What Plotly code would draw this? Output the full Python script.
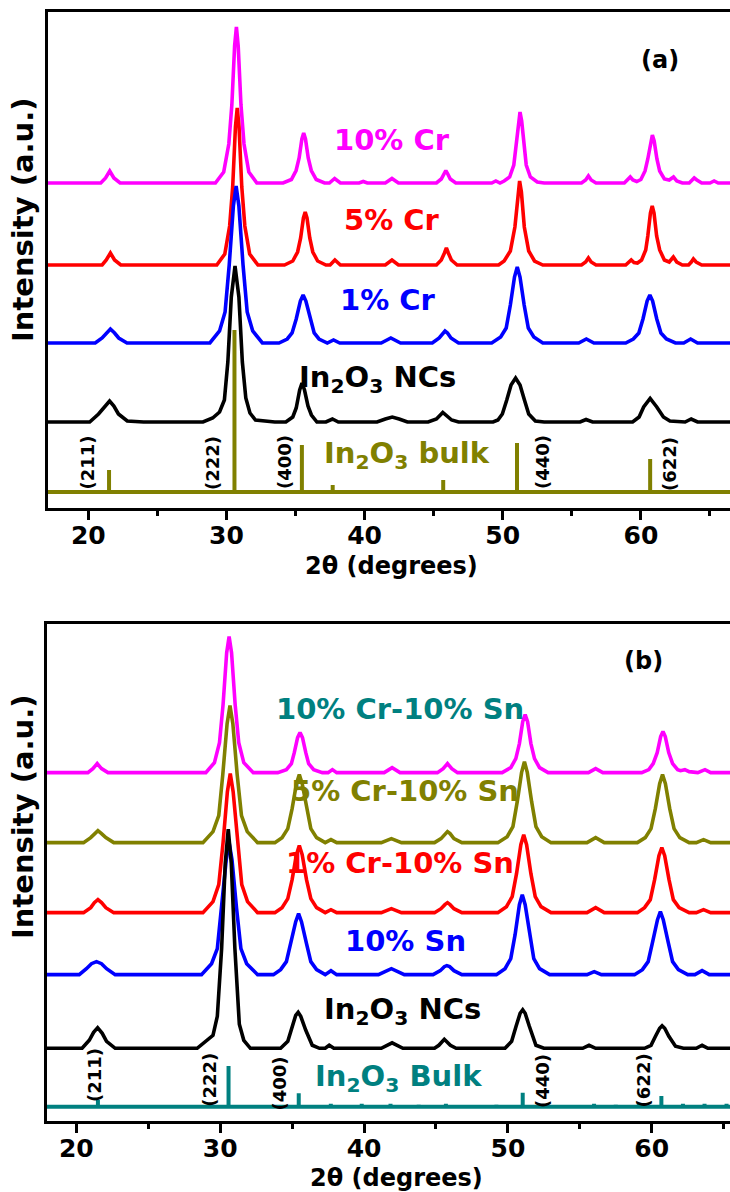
import plotly.graph_objects as go

# ---------------------------------------------------------------------------
# Panel (a): In2O3 NCs and Cr-doped In2O3 (2theta, intensity above own baseline)
# ---------------------------------------------------------------------------
CR10_A = [(17.0, 0), (20.9, 0), (21.25, 5), (21.55, 12), (21.85, 5), (22.3, 0),
          (29.2, 0), (29.8, 11), (30.17, 39), (30.39, 78), (30.59, 137), (30.72, 156), (30.85, 137),
          (31.05, 78), (31.27, 39), (31.62, 11), (32.2, 0),
          (34.1, 0), (34.7, 3.5), (35.04, 12.5), (35.26, 25), (35.46, 44), (35.59, 50), (35.72, 44),
          (35.92, 25), (36.14, 12.5), (36.5, 3.5), (37.1, 0),
          (37.45, 0), (37.83, 4.5), (38.25, 0), (39.6, 0), (39.9, 1.5), (40.2, 0),
          (41.5, 0), (41.98, 4.5), (42.45, 0),
          (45.2, 0), (45.55, 4), (45.75, 9), (45.88, 12.5), (46.02, 9), (46.2, 4), (46.6, 0),
          (49.2, 0), (49.5, 2), (49.8, 0), (50.1, 2), (50.5, 6), (50.8, 18), (50.95, 36), (51.13, 62),
          (51.25, 71), (51.37, 62), (51.55, 36), (51.7, 18), (52.0, 6), (52.5, 1), (53.0, 0),
          (55.7, 0), (56.0, 3), (56.2, 7), (56.4, 3), (56.75, 0),
          (58.8, 0), (59.05, 3), (59.23, 6), (59.42, 3), (59.7, 1.5), (60.0, 3.5), (60.3, 12), (60.5, 24),
          (60.7, 42), (60.83, 48), (60.96, 42), (61.16, 24), (61.36, 12), (61.7, 4), (62.05, 3),
          (62.36, 6), (62.6, 2), (63.0, 0), (63.5, 0), (63.7, 3), (63.86, 5), (64.05, 3), (64.4, 0),
          (65.0, 0), (65.3, 2), (65.6, 0), (66.6, 0)]

CR5_A = [(17.0, 0), (21.0, 0), (21.3, 5), (21.6, 12), (21.9, 5), (22.35, 0),
         (29.3, 0), (29.88, 11), (30.23, 39), (30.45, 78), (30.65, 138), (30.78, 157), (30.91, 138),
         (31.11, 78), (31.33, 39), (31.68, 11), (32.28, 0),
         (34.2, 0), (34.8, 4), (35.15, 13), (35.37, 27), (35.57, 47), (35.7, 53), (35.83, 47),
         (36.03, 27), (36.25, 13), (36.6, 4), (37.2, 0),
         (37.5, 0), (37.85, 5), (38.25, 0), (41.5, 0), (41.98, 5), (42.45, 0),
         (45.2, 0), (45.55, 5), (45.78, 12), (45.92, 17), (46.06, 12), (46.28, 5), (46.7, 0),
         (49.7, 0), (50.1, 4), (50.55, 14), (50.88, 38), (51.09, 73), (51.22, 84), (51.35, 73),
         (51.56, 38), (51.88, 14), (52.3, 4), (52.9, 0),
         (55.7, 0), (56.0, 3), (56.2, 7), (56.4, 3), (56.75, 0),
         (58.9, 0), (59.12, 2.5), (59.3, 5), (59.5, 2.5), (59.75, 2), (60.05, 5), (60.35, 15),
         (60.5, 29), (60.69, 52), (60.82, 59), (60.95, 52), (61.14, 29), (61.36, 15), (61.7, 5),
         (62.05, 3), (62.35, 8), (62.6, 3), (63.0, 0), (63.45, 0), (63.65, 3), (63.8, 6), (64.0, 3),
         (64.4, 0), (66.6, 0)]

CR1_A = [(17.0, 0), (20.5, 0), (21.0, 5), (21.3, 10), (21.6, 14), (21.9, 10), (22.2, 5), (22.8, 0),
         (28.8, 0), (29.5, 12), (29.9, 31), (30.2, 78), (30.5, 137), (30.7, 157), (30.9, 137),
         (31.2, 78), (31.5, 31), (31.9, 12), (32.6, 0),
         (33.8, 0), (34.4, 4), (34.75, 10), (35.05, 24), (35.35, 42), (35.55, 48), (35.75, 42),
         (36.05, 24), (36.35, 10), (36.7, 4), (37.3, 0),
         (37.75, 3), (38.2, 0), (41.2, 0), (41.9, 5), (42.6, 0),
         (44.9, 0), (45.4, 5), (45.65, 10), (45.82, 12), (46.0, 10), (46.25, 5), (46.8, 0),
         (49.2, 0), (49.85, 6), (50.25, 15), (50.55, 38), (50.85, 66), (51.05, 76), (51.25, 66),
         (51.55, 38), (51.85, 15), (52.25, 6), (52.9, 0),
         (55.5, 0), (56.05, 4), (56.6, 0),
         (58.9, 0), (59.45, 4), (59.85, 10), (60.15, 24), (60.45, 42), (60.65, 48), (60.85, 42),
         (61.15, 24), (61.45, 10), (61.85, 4), (62.5, 0),
         (63.1, 0), (63.6, 4), (64.1, 0), (66.6, 0)]

NCS_A = [(17.0, 0), (20.1, 0), (20.74, 8), (21.2, 16), (21.54, 21), (21.85, 16), (22.18, 8),
         (22.82, 1), (24.0, 0),
         (28.3, 0), (29.0, 4), (29.5, 10), (29.85, 22), (30.1, 60), (30.35, 125), (30.62, 156),
         (30.9, 125), (31.15, 60), (31.4, 24), (31.7, 9), (32.1, 2), (33.5, 0),
         (34.3, 0), (34.8, 5), (35.05, 14), (35.3, 32), (35.47, 39), (35.65, 32), (35.9, 16),
         (36.15, 7), (36.55, 0),
         (37.2, 0), (37.67, 3), (38.1, 0), (40.9, 0), (41.5, 3), (42.0, 5), (42.5, 3), (43.1, 0),
         (44.6, 0), (45.2, 3), (45.66, 9.5), (46.3, 2), (46.8, 0),
         (49.3, 0), (49.65, 2), (49.97, 8), (50.29, 22), (50.6, 37), (50.93, 44), (51.25, 37),
         (51.57, 22), (51.88, 8), (52.36, 1), (53.0, 0),
         (55.6, 0), (56.03, 2.5), (56.5, 0),
         (59.4, 0), (59.87, 5), (60.2, 15), (60.67, 23.5), (61.15, 15), (61.63, 5), (62.1, 1),
         (63.2, 0), (63.64, 3), (64.1, 0), (66.6, 0)]

# vertical offsets of the stacked patterns
OFFSETS_A = {"10% Cr": 325, "5% Cr": 243, "1% Cr": 165, "NCs": 86}

# reference In2O3 bulk reflections (stick pattern)
BULK_A_POS = [21.5, 30.58, 35.46, 37.69, 45.69, 51.03, 60.67]
BULK_A_H = [22, 162, 47, 7, 12, 49, 33]
BULK_A_BASE = 16

# ---------------------------------------------------------------------------
# Panel (b): In2O3 NCs, Sn-doped and Cr/Sn co-doped In2O3
# ---------------------------------------------------------------------------
CR10SN10_B = [(17.9, 0), (20.8, 0), (21.15, 4), (21.45, 9), (21.75, 4), (22.2, 0),
              (29.0, 0), (29.6, 10), (29.95, 30), (30.2, 68), (30.45, 120), (30.62, 136),
              (30.79, 120), (31.04, 68), (31.29, 30), (31.64, 10), (32.3, 0),
              (34.0, 0), (34.6, 3), (34.95, 9), (35.15, 20), (35.38, 35), (35.55, 40), (35.72, 35),
              (35.95, 20), (36.15, 9), (36.5, 3), (37.1, 0),
              (37.5, 0), (37.8, 3), (38.1, 0), (41.4, 0), (41.95, 5), (42.5, 0),
              (45.1, 0), (45.5, 4), (45.8, 9), (46.1, 4), (46.5, 0),
              (49.6, 0), (50.2, 5), (50.55, 14), (50.8, 29), (51.03, 51), (51.2, 58), (51.37, 51),
              (51.6, 29), (51.85, 14), (52.2, 5), (52.8, 0),
              (55.6, 0), (56.1, 4), (56.6, 0),
              (59.3, 0), (59.8, 3), (60.1, 9), (60.38, 20), (60.62, 36), (60.78, 41), (60.94, 36),
              (61.18, 20), (61.45, 9), (61.8, 3), (62.0, 2), (62.3, 3), (62.6, 1), (63.2, 0),
              (63.7, 3), (64.1, 0), (65.6, 0)]

CR5SN10_B = [(17.9, 0), (20.5, 0), (21.0, 5), (21.25, 9), (21.5, 12), (21.75, 9), (22.05, 5), (22.6, 0),
             (28.8, 0), (29.5, 11), (29.9, 27), (30.18, 68), (30.48, 119), (30.68, 137), (30.88, 119),
             (31.18, 68), (31.48, 27), (31.88, 11), (32.6, 0),
             (33.8, 0), (34.3, 5), (34.7, 14), (35.0, 34), (35.3, 59), (35.5, 68), (35.7, 59),
             (36.0, 34), (36.3, 14), (36.7, 5), (37.3, 0),
             (37.7, 3), (38.1, 0), (41.2, 0), (41.9, 4), (42.6, 0),
             (44.9, 0), (45.35, 4), (45.62, 9), (45.8, 11), (45.98, 9), (46.25, 4), (46.8, 0),
             (49.3, 0), (49.95, 6), (50.35, 16), (50.65, 41), (50.95, 70), (51.15, 81), (51.35, 70),
             (51.65, 41), (51.95, 16), (52.35, 6), (53.0, 0),
             (55.5, 0), (56.1, 5), (56.7, 0),
             (59.0, 0), (59.55, 5), (59.95, 14), (60.25, 34), (60.55, 59), (60.75, 68), (60.95, 59),
             (61.25, 34), (61.55, 14), (61.95, 5), (62.6, 0),
             (63.1, 0), (63.6, 3), (64.1, 0), (65.6, 0)]

CR1SN10_B = [(17.9, 0), (20.5, 0), (21.0, 5), (21.25, 10), (21.5, 13), (21.75, 10), (22.05, 5), (22.6, 0),
             (28.8, 0), (29.5, 11), (29.9, 28), (30.2, 70), (30.5, 121), (30.7, 139), (30.9, 121),
             (31.2, 70), (31.5, 28), (31.9, 11), (32.6, 0),
             (33.8, 0), (34.3, 5), (34.7, 14), (35.0, 33), (35.3, 58), (35.5, 67), (35.7, 58),
             (36.0, 33), (36.3, 14), (36.7, 5), (37.3, 0),
             (37.7, 3), (38.1, 0), (41.2, 0), (41.9, 4), (42.6, 0),
             (44.9, 0), (45.35, 4), (45.62, 8), (45.8, 10), (45.98, 8), (46.25, 4), (46.8, 0),
             (49.3, 0), (49.9, 6), (50.3, 16), (50.6, 39), (50.9, 68), (51.1, 78), (51.3, 68),
             (51.6, 39), (51.9, 16), (52.3, 6), (53.0, 0),
             (55.5, 0), (56.1, 5), (56.7, 0),
             (59.0, 0), (59.5, 5), (59.9, 13), (60.2, 33), (60.5, 57), (60.7, 65), (60.9, 57),
             (61.2, 33), (61.5, 13), (61.9, 5), (62.6, 0),
             (63.1, 0), (63.6, 3), (64.1, 0), (65.6, 0)]

SN10_B = [(17.9, 0), (20.2, 0), (20.7, 6), (21.05, 11), (21.4, 13), (21.75, 11), (22.1, 6), (22.7, 0),
          (28.7, 0), (29.4, 11), (29.8, 26), (30.1, 66), (30.42, 115), (30.62, 132), (30.82, 115),
          (31.14, 66), (31.44, 26), (31.84, 11), (32.6, 0),
          (33.7, 0), (34.2, 5), (34.6, 13), (34.9, 31), (35.25, 53), (35.45, 61), (35.65, 53),
          (36.0, 31), (36.3, 13), (36.7, 5), (37.3, 0),
          (37.7, 4), (38.1, 0), (41.0, 0), (41.9, 6), (42.8, 0),
          (44.8, 0), (45.3, 4), (45.58, 8), (45.75, 9), (45.95, 8), (46.25, 4), (46.8, 0),
          (49.2, 0), (49.8, 6), (50.2, 16), (50.5, 40), (50.8, 70), (51.0, 80), (51.2, 70),
          (51.5, 40), (51.8, 16), (52.2, 6), (52.9, 0),
          (55.5, 0), (56.0, 3), (56.5, 0),
          (58.8, 0), (59.35, 5), (59.75, 13), (60.05, 32), (60.4, 55), (60.6, 63), (60.8, 55),
          (61.15, 32), (61.45, 13), (61.85, 5), (62.5, 0),
          (63.0, 0), (63.5, 4), (64.0, 0), (65.6, 0)]

NCS_B = [(17.9, 0), (20.4, 0), (20.9, 8), (21.2, 16), (21.48, 20.6), (21.8, 15), (22.1, 7), (22.7, 0),
         (28.4, 0), (29.0, 7), (29.5, 13), (29.8, 32), (30.1, 100), (30.35, 185), (30.56, 219),
         (30.77, 185), (31.02, 100), (31.33, 24), (31.64, 8), (32.1, 0),
         (34.2, 0), (34.7, 7), (35.02, 21), (35.25, 33), (35.42, 36), (35.6, 32), (35.95, 18),
         (36.4, 3), (36.9, 0),
         (37.3, 0), (37.58, 3), (37.9, 0), (41.2, 0), (41.95, 5.5), (42.7, 0),
         (44.9, 0), (45.2, 3), (45.58, 9), (46.0, 3), (46.4, 0),
         (49.8, 0), (50.26, 7), (50.57, 22), (50.85, 35), (51.03, 38.5), (51.2, 35), (51.49, 22),
         (51.95, 3), (52.5, 0),
         (55.2, 0), (55.64, 3), (56.1, 0),
         (59.5, 0), (59.95, 3), (60.26, 12), (60.55, 20), (60.72, 22.5), (60.9, 20), (61.19, 12),
         (61.65, 2), (62.2, 0),
         (63.1, 0), (63.5, 3), (63.9, 0), (65.6, 0)]

OFFSETS_B = {"10% Cr-10% Sn": 348, "5% Cr-10% Sn": 278, "1% Cr-10% Sn": 208,
             "10% Sn": 146, "NCs": 72.4}

BULK_B_POS = [21.5, 30.58, 35.46, 37.69, 39.84, 41.84, 43.8, 45.69, 49.2, 51.03, 52.7,
              55.99, 57.5, 59.1, 60.67, 62.17, 63.67, 65.2]
BULK_B_H = [6.7, 40.7, 13.4, 3, 3, 3, 2, 3, 2, 14, 2, 3, 2, 3, 10.7, 3, 3, 3]
BULK_B_BASE = 14

# Miller indices of the labelled reflections
HKL = ["(211)", "(222)", "(400)", "(440)", "(622)"]
HKL_A_X = [19.94, 28.95, 34.16, 52.84, 62.04]
HKL_A_Y = [46, 45, 46, 46, 44]
HKL_B_X = [21.3, 29.27, 34.19, 52.44, 59.49]
HKL_B_Y = [45.7, 40.7, 37.7, 39.7, 40.7]

X_RANGE_A = [17.06, 66.45]
X_RANGE_B = [17.96, 65.44]
Y_RANGE = [0, 496.3]
X_TICKS = [20, 30, 40, 50, 60]

MAGENTA, RED, BLUE, BLACK = "#FF00FF", "#FF0000", "#0000FF", "#000000"
OLIVE, TEAL = "#808000", "#008080"
FONT = "DejaVu Sans"
LW = 3.6

W, H = 730, 1192


def curve(points, offset, color, xa, ya):
    xs = [p[0] for p in points]
    ys = [p[1] + offset for p in points]
    return go.Scatter(x=xs, y=ys, mode="lines", line=dict(color=color, width=LW),
                      xaxis=xa, yaxis=ya, showlegend=False, hoverinfo="skip")


def sticks(pos, heights, base, xrange_, color, xa, ya):
    xs, ys = [xrange_[0], xrange_[1] + 0.2, None], [base, base, None]
    for p, h in zip(pos, heights):
        xs += [p, p, None]
        ys += [base, base + h, None]
    return go.Scatter(x=xs, y=ys, mode="lines", line=dict(color=color, width=4),
                      xaxis=xa, yaxis=ya, showlegend=False, hoverinfo="skip")


fig = go.Figure()

# panel (a) - lower traces drawn later sit on top
fig.add_trace(curve(CR10_A, OFFSETS_A["10% Cr"], MAGENTA, "x", "y"))
fig.add_trace(curve(CR5_A, OFFSETS_A["5% Cr"], RED, "x", "y"))
fig.add_trace(curve(CR1_A, OFFSETS_A["1% Cr"], BLUE, "x", "y"))
fig.add_trace(curve(NCS_A, OFFSETS_A["NCs"], BLACK, "x", "y"))
fig.add_trace(sticks(BULK_A_POS, BULK_A_H, BULK_A_BASE, X_RANGE_A, OLIVE, "x", "y"))

# panel (b)
fig.add_trace(curve(CR10SN10_B, OFFSETS_B["10% Cr-10% Sn"], MAGENTA, "x2", "y2"))
fig.add_trace(curve(CR5SN10_B, OFFSETS_B["5% Cr-10% Sn"], OLIVE, "x2", "y2"))
fig.add_trace(curve(CR1SN10_B, OFFSETS_B["1% Cr-10% Sn"], RED, "x2", "y2"))
fig.add_trace(curve(SN10_B, OFFSETS_B["10% Sn"], BLUE, "x2", "y2"))
fig.add_trace(curve(NCS_B, OFFSETS_B["NCs"], BLACK, "x2", "y2"))
fig.add_trace(sticks(BULK_B_POS, BULK_B_H, BULK_B_BASE, X_RANGE_B, TEAL, "x2", "y2"))


def xaxis_style(rng, left_px, anchor):
    return dict(domain=[left_px / W, 1.0], range=rng, anchor=anchor,
                showline=True, linecolor="black", linewidth=2.6, mirror=True,
                showgrid=False, zeroline=False,
                tickmode="array", tickvals=X_TICKS, ticktext=[str(t) for t in X_TICKS],
                ticks="outside", ticklen=9, tickwidth=2.6, tickcolor="black",
                ticklabelstandoff=-6,
                minor=dict(ticks="outside", ticklen=5, tickwidth=2.6, tickcolor="black",
                           tickmode="array", tickvals=[25, 35, 45, 55, 65]),
                tickfont=dict(family=FONT, size=25, color="black", weight="bold"))


def yaxis_style(top_px, bottom_px, anchor):
    return dict(domain=[(H - bottom_px) / H, (H - top_px) / H], range=Y_RANGE, anchor=anchor,
                showline=True, linecolor="black", linewidth=2.6, mirror=False,
                showgrid=False, zeroline=False, showticklabels=False, ticks="")


fig.update_layout(
    width=W, height=H, margin=dict(l=0, r=0, t=0, b=0),
    paper_bgcolor="white", plot_bgcolor="white",
    xaxis=xaxis_style(X_RANGE_A, 47.7, "y"),
    yaxis=yaxis_style(11.7, 508, "x"),
    xaxis2=xaxis_style(X_RANGE_B, 47.0, "y2"),
    yaxis2=yaxis_style(624.3, 1120.7, "x2"),
)


def label(text, x, y, color, size, xref, yref, angle=0):
    fig.add_annotation(text="<b>" + text + "</b>", x=x, y=y, xref=xref, yref=yref,
                       showarrow=False, textangle=angle, xanchor="center", yanchor="middle",
                       font=dict(family=FONT, size=size, color=color))


IN2O3 = "In<sub>2</sub>O<sub>3</sub>"

# panel (a) labels
label("10% Cr", 41.95, 368, MAGENTA, 29, "x", "y")
label("5% Cr", 41.95, 288, RED, 29, "x", "y")
label("1% Cr", 41.7, 208, BLUE, 29, "x", "y")
label(IN2O3 + " NCs", 40.9, 129, BLACK, 29, "x", "y")
label(IN2O3 + " bulk", 43.1, 53, OLIVE, 29, "x", "y")
label("(a)", 61.35, 448, BLACK, 24, "x", "y")
for t, hx, hy in zip(HKL, HKL_A_X, HKL_A_Y):
    label(t, hx, hy, BLACK, 18, "x", "y", angle=-90)

# panel (b) labels
label("10% Cr-10% Sn", 42.5, 412, TEAL, 29, "x2", "y2")
label("5% Cr-10% Sn", 42.85, 330, OLIVE, 29, "x2", "y2")
label("1% Cr-10% Sn", 42.5, 258, RED, 29, "x2", "y2")
label("10% Sn", 42.85, 180, BLUE, 29, "x2", "y2")
label(IN2O3 + " NCs", 42.7, 110, BLACK, 29, "x2", "y2")
label(IN2O3 + " Bulk", 42.4, 42.7, TEAL, 29, "x2", "y2")
label("(b)", 59.4, 460, BLACK, 24, "x2", "y2")
for t, hx, hy in zip(HKL, HKL_B_X, HKL_B_Y):
    label(t, hx, hy, BLACK, 18, "x2", "y2", angle=-90)

# axis titles
label("2θ (degrees)", 391 / W, 1 - 566 / H, BLACK, 24, "paper", "paper")
label("2θ (degrees)", 396 / W, 1 - 1178 / H, BLACK, 24, "paper", "paper")
label("Intensity (a.u.)", 23 / W, 1 - 220 / H, BLACK, 29, "paper", "paper", angle=-90)
label("Intensity (a.u.)", 23 / W, 1 - 817 / H, BLACK, 29, "paper", "paper", angle=-90)

fig.write_html("out.html")
